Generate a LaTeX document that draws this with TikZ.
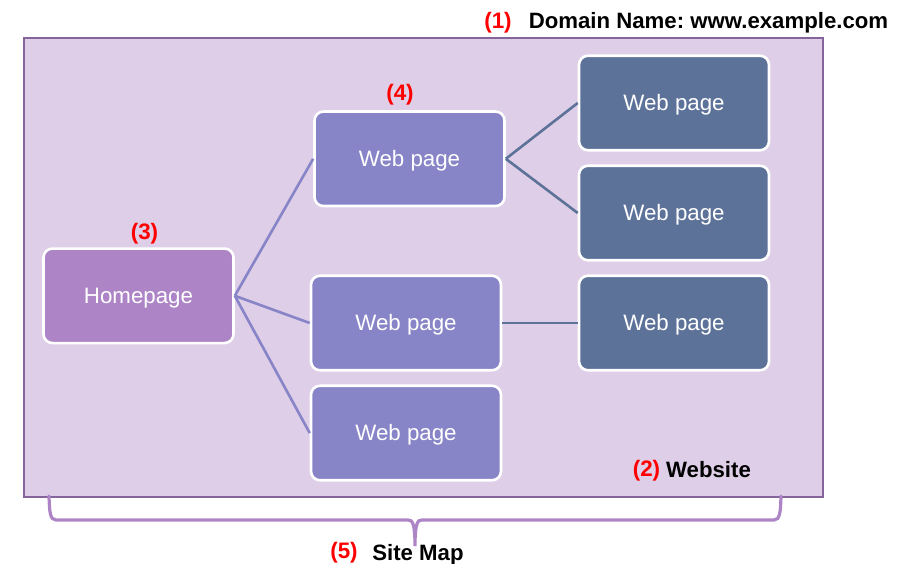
\documentclass[tikz,border=0pt]{standalone}
\usepackage{fontspec}
\setmainfont{Liberation Sans}
\frenchspacing
\definecolor{bgc}{HTML}{DECEE7}
\definecolor{bdc}{HTML}{85649B}
\definecolor{hp}{HTML}{AD84C6}
\definecolor{wp}{HTML}{8784C7}
\definecolor{dk}{HTML}{5D7299}
\definecolor{br}{HTML}{AD84C6}
\definecolor{redc}{HTML}{FF0000}
\begin{document}
\begin{tikzpicture}[x=1pt,y=-1pt,
 box/.style={draw=white,line width=2.6pt,rounded corners=9pt,minimum width=190pt,minimum height=94.5pt,text=white,font=\fontsize{22.3}{24}\selectfont,inner sep=0pt,text height=20pt,text depth=5pt},
 boxa/.style={box,fill=hp},boxb/.style={box,fill=wp},boxc/.style={box,fill=dk},
 lnb/.style={draw=wp,line width=2.6pt},lnc/.style={draw=dk,line width=2.6pt},
 rd/.style={text=redc,font=\bfseries\fontsize{22.4}{24}\selectfont,inner sep=0pt},
 bk/.style={text=black,font=\bfseries\fontsize{22.2}{24}\selectfont,inner sep=0pt}]
\useasboundingbox (0,0) rectangle (915,564);
\node[draw=bdc,fill=bgc,line width=2.7pt,minimum width=799pt,minimum height=459pt,inner sep=0pt] (site) at (423.5,267.5) {};
\node[boxa] (home) at (138.5,295.8) {Homepage};
\node[boxb] (w1) at (409.5,158.8) {Web page};
\node[boxb] (w2) at (406,323) {Web page};
\node[boxb] (w3) at (406,433) {Web page};
\node[boxc] (d1) at (674,103) {Web page};
\node[boxc] (d2) at (674,213) {Web page};
\node[boxc] (d3) at (674,323) {Web page};
\draw[lnb] (home.east) -- (w1.west);
\draw[lnb] (home.east) -- (w2.west);
\draw[lnb] (home.east) -- (w3.west);
\draw[lnc] (w1.east) -- (d1.west);
\draw[lnc] (w1.east) -- (d2.west);
\draw[lnc] (w2.east) -- (d3.west);
\node[rd] (n1) at (498,23) {(1)};
\node[bk] (t1) at (708.5,23) {Domain Name: www.example.com};
\node[rd] (n2) at (646.5,471) {(2)};
\node[bk] (t2) at (708.5,470) {Website};
\node[rd] (n3) at (144.5,234) {(3)};
\node[rd] (n4) at (400,95) {(4)};
\node[rd] (n5) at (344,553) {(5)};
\node[bk] (t5) at (418,555) {Site Map};
\coordinate (bl) at (49,496);
\coordinate (brr) at (781,496);
\coordinate (bt) at (415,546);
\draw[draw=br,line width=3.2pt,line cap=round] (bl) .. controls (49.5,512) and (50,520) .. (56,520) -- (408,520) .. controls (412,520) and (415,522) .. (bt) .. controls (415,522) and (418,520) .. (422,520) -- (774,520) .. controls (780,520) and (780.5,512) .. (brr);
\end{tikzpicture}
\end{document}
